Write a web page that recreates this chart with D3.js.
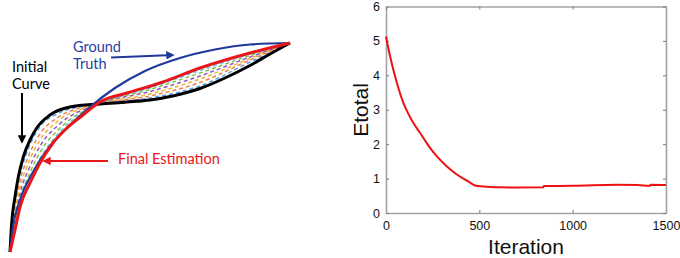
<!DOCTYPE html>
<html lang="en">
<head>
    <meta charset="UTF-8">
    <title>Curve Estimation</title>
    <style>
        html, body { margin: 0; padding: 0; background: #fff; }
        .ann { font-family: Lato, "Open Sans", sans-serif; font-size: 14.5px; }
        .tick text { font-family: "Liberation Sans", Arial, sans-serif; font-size: 12.5px; fill: #111; }
        .axis-label { font-family: "Liberation Sans", Arial, sans-serif; font-size: 21px; fill: #111; }
    </style>
</head>
<body>
    <div id="wrapper"></div>
    <script src="https://d3js.org/d3.v7.min.js"></script>
    <script>
        // ---------- left panel: curves (arbitrary units) ----------
        const initialCurve = [[0, 0], [1.7, 29], [5, 55], [8.3, 75], [13.3, 95], [20, 112], [26.7, 124], [40, 137],
            [60, 145], [90, 148], [117, 150], [140, 152], [165, 156.5], [190, 163.5], [215, 174], [240, 186.5], [260, 198], [280, 209]];
        const groundTruth = [[0, 0], [3, 25], [10, 52], [23, 80], [40, 106], [57, 124], [80, 145], [105, 164],
            [135, 181], [170, 194], [205, 202.5], [240, 207.5], [280, 209]];
        const finalEstimation = [[0, 0], [5, 22], [10, 45], [20, 69], [30, 89], [43, 109], [57, 124], [73, 137],
            [90, 150], [117, 159], [150, 169], [190, 184], [240, 199], [280, 209]];
        // intermediate iterations (dashed)
        const iter1 = [[0, 0], [3, 38], [8.5, 72], [16, 97], [27, 121], [46, 137.5], [85, 148], [140, 154], [190, 166], [240, 190], [280, 209]];
        const iter2 = [[0, 0], [3.6, 35], [9.1, 68], [17, 92], [28.5, 116], [47, 134], [85, 147.5], [140, 156], [190, 169.5], [240, 192], [280, 209]];
        const iter3 = [[0, 0], [3.9, 32], [9.8, 64], [18, 88], [30, 112], [48, 131], [85, 147], [140, 158], [190, 173], [240, 193.5], [280, 209]];
        const iter4 = [[0, 0], [4.2, 29], [10.4, 60], [19.2, 84], [31.4, 108], [49, 127.5], [85, 147], [140, 160.5], [190, 176], [240, 195], [280, 209]];
        const iter5 = [[0, 0], [4.5, 26.5], [11, 56], [20.2, 80], [32.8, 104], [50, 124], [85, 146.5], [140, 162.5], [190, 179], [240, 196.5], [280, 209]];
        const iter6 = [[0, 0], [4.8, 24], [11.5, 53], [21, 76], [34, 100], [51, 121.5], [85, 146], [140, 164], [190, 181.5], [240, 198], [280, 209]];
        const iterations = [iter1, iter2, iter3, iter4, iter5, iter6];
        const iterColors = ['#4fa3e8', '#f0804f', '#f2b531', '#9655c8', '#82c244', '#62cff0'];

        // ---------- right panel: energy ----------
        const iters = [0, 20, 39, 60, 93, 120, 146, 182, 210, 236, 280, 325, 360, 396, 440, 477, 520, 611, 700, 843, 845,
            1000, 1236, 1350, 1414, 1418, 1500];
        const etotal = [5.13, 4.6, 4.17, 3.75, 3.2, 2.88, 2.62, 2.33, 2.1, 1.89, 1.6, 1.36, 1.2, 1.06, 0.92, 0.8, 0.77,
            0.745, 0.74, 0.745, 0.785, 0.79, 0.82, 0.81, 0.79, 0.82, 0.81];
        const xTicks = [0, 500, 1000, 1500];
        const yTicks = [0, 1, 2, 3, 4, 5, 6];

        const width = 680, height = 258;
        const svg = d3.select('#wrapper').append('svg')
            .attr('width', width)
            .attr('height', height);

        // arrowheads
        const defs = svg.append('defs');
        [['arrBlack', '#000'], ['arrBlue', '#1f3a9a'], ['arrRed', '#e8161b']].forEach(([id, c]) => {
            defs.append('marker')
                .attr('id', id)
                .attr('viewBox', '0 0 10 10')
                .attr('refX', 8).attr('refY', 5)
                .attr('markerWidth', 4.2).attr('markerHeight', 4.2)
                .attr('orient', 'auto')
                .append('path')
                .attr('d', 'M0,0 L10,5 L0,10 Z')
                .attr('fill', c);
        });

        // ===== left panel =====
        const lx = d3.scaleLinear().domain([0, 280]).range([10, 290]);
        const ly = d3.scaleLinear().domain([0, 209]).range([252, 43]);
        const curve = d3.line()
            .x(d => lx(d[0]))
            .y(d => ly(d[1]))
            .curve(d3.curveMonotoneX);

        const left = svg.append('g');
        iterations.forEach((pts, i) => {
            left.append('path')
                .attr('d', curve(pts))
                .attr('fill', 'none')
                .attr('stroke', iterColors[i])
                .attr('stroke-width', 1.5)
                .attr('stroke-dasharray', '4,3');
        });
        left.append('path').attr('d', curve(initialCurve))
            .attr('fill', 'none').attr('stroke', '#000').attr('stroke-width', 3);
        left.append('path').attr('d', curve(groundTruth))
            .attr('fill', 'none').attr('stroke', '#1f3a9a').attr('stroke-width', 2.2);
        left.append('path').attr('d', curve(finalEstimation))
            .attr('fill', 'none').attr('stroke', '#e8161b').attr('stroke-width', 3);

        // annotations
        left.append('text').attr('class', 'ann').attr('x', 12).attr('y', 72).text('Initial');
        left.append('text').attr('class', 'ann').attr('x', 12).attr('y', 89).text('Curve');
        left.append('line').attr('x1', 22).attr('y1', 93).attr('x2', 22).attr('y2', 142)
            .attr('stroke', '#000').attr('stroke-width', 2).attr('marker-end', 'url(#arrBlack)');

        left.append('text').attr('class', 'ann').attr('x', 73).attr('y', 52).attr('fill', '#2a3f9e').text('Ground');
        left.append('text').attr('class', 'ann').attr('x', 73).attr('y', 69).attr('fill', '#2a3f9e').text('Truth');
        left.append('line').attr('x1', 111).attr('y1', 57.5).attr('x2', 173).attr('y2', 55)
            .attr('stroke', '#1f3a9a').attr('stroke-width', 2).attr('marker-end', 'url(#arrBlue)');

        left.append('text').attr('class', 'ann').attr('x', 118).attr('y', 164).attr('fill', '#e8161b').text('Final Estimation');
        left.append('line').attr('x1', 108).attr('y1', 161).attr('x2', 44).attr('y2', 161)
            .attr('stroke', '#e8161b').attr('stroke-width', 2).attr('marker-end', 'url(#arrRed)');

        // ===== right panel =====
        const x0 = 386, x1 = 666, y0 = 213, y1 = 6.5;
        const xScale = d3.scaleLinear().domain([0, 1500]).range([x0, x1]);
        const yScale = d3.scaleLinear().domain([0, 6]).range([y0, y1]);
        const right = svg.append('g');
        const fmt = d3.format('d');

        const boxColor = '#a3a3a3';
        right.append('g').attr('transform', `translate(0,${y0})`)
            .call(d3.axisBottom(xScale).tickValues(xTicks).tickFormat(fmt).tickSizeInner(-3).tickSizeOuter(0).tickPadding(6))
            .call(g => g.selectAll('.tick text').attr('dy', '0.9em'));
        right.append('g').attr('transform', `translate(${x0},0)`)
            .call(d3.axisLeft(yScale).tickValues(yTicks).tickFormat(fmt).tickSizeInner(-3).tickSizeOuter(0).tickPadding(6));
        right.append('g').attr('transform', `translate(0,${y1})`)
            .call(d3.axisTop(xScale).tickValues(xTicks).tickSizeInner(-3).tickSizeOuter(0).tickFormat(''));
        right.append('g').attr('transform', `translate(${x1},0)`)
            .call(d3.axisRight(yScale).tickValues(yTicks).tickSizeInner(-3).tickSizeOuter(0).tickFormat(''));
        right.selectAll('.domain').attr('stroke', boxColor).attr('stroke-width', 1.6);
        right.selectAll('.tick line').attr('stroke', '#777');

        const eline = d3.line()
            .x((d, i) => xScale(iters[i]))
            .y(d => yScale(d))
            .curve(d3.curveMonotoneX);
        right.append('path')
            .attr('d', eline(etotal))
            .attr('fill', 'none')
            .attr('stroke', '#ee1111')
            .attr('stroke-width', 2);

        right.append('text').attr('class', 'axis-label')
            .attr('x', (x0 + x1) / 2).attr('y', 254)
            .attr('text-anchor', 'middle').text('Iteration');
        right.append('text').attr('class', 'axis-label')
            .attr('transform', `translate(368,110) rotate(-90)`)
            .attr('text-anchor', 'middle').text('Etotal');
    </script>
</body>
</html>
